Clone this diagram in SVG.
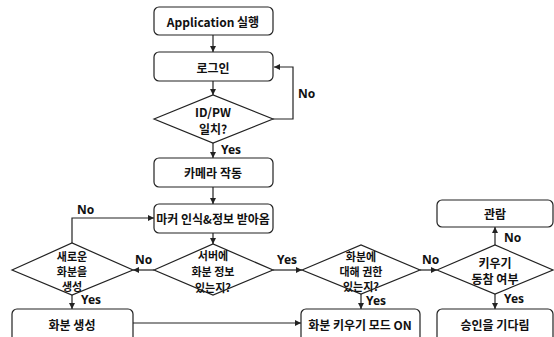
<svg xmlns="http://www.w3.org/2000/svg" width="554" height="337" viewBox="0 0 554 337">
<style>
.n{fill:#fff;stroke:#222;stroke-width:1.2}
.t{font-family:"Noto Sans CJK KR","Noto Sans",sans-serif;font-size:12px;font-weight:bold;fill:#111;text-anchor:middle;dominant-baseline:central}
.d{font-size:11px}
.l{font-family:"Noto Sans","Liberation Sans",sans-serif;font-size:12px;font-weight:bold;fill:#111;dominant-baseline:central}
.c{fill:none;stroke:#222;stroke-width:1.2;marker-end:url(#a)}
</style>
<defs>
<marker id="a" viewBox="0 0 8 8" refX="8" refY="4" markerWidth="6" markerHeight="6" markerUnits="userSpaceOnUse" orient="auto">
<path d="M0,0L8,4L0,8z" fill="#222"/>
</marker>
</defs>
<rect width="554" height="337" fill="#fff"/>
<g id="connectors">
<path class="c" d="M213,35V52"/>
<path class="c" d="M213,81V95"/>
<path class="c" d="M273,119H293V67H274"/>
<path class="c" d="M213,143V158"/>
<path class="c" d="M213,187V204"/>
<path class="c" d="M213,233V244"/>
<path class="c" d="M154,270H133"/>
<path class="c" d="M72,243V218H154"/>
<path class="c" d="M72,295V309"/>
<path class="c" d="M133,323H301"/>
<path class="c" d="M273,270H302"/>
<path class="c" d="M361,294V309"/>
<path class="c" d="M420,270H437"/>
<path class="c" d="M495,245V227"/>
<path class="c" d="M495,294V309"/>
<text class="l" x="298" y="93">No</text>
<text class="l" x="221" y="149">Yes</text>
<text class="l" x="135" y="259">No</text>
<text class="l" x="77" y="209">No</text>
<text class="l" x="81" y="299">Yes</text>
<text class="l" x="277" y="259">Yes</text>
<text class="l" x="366" y="300">Yes</text>
<text class="l" x="422" y="259">No</text>
<text class="l" x="504" y="237">No</text>
<text class="l" x="504" y="298">Yes</text>
</g>
<g id="start">
<rect class="n" x="154" y="7" width="119" height="28" rx="5"/>
<text class="t" x="213" y="21">Application 실행</text>
</g>
<g id="login">
<rect class="n" x="154" y="52" width="119" height="29" rx="5"/>
<text class="t" x="213" y="67">로그인</text>
</g>
<g id="idpw">
<polygon class="n" points="154,119 213,95 273,119 213,143"/>
<text class="t" x="213" y="111">ID/PW</text>
<text class="t" x="213" y="128">일치?</text>
</g>
<g id="camera">
<rect class="n" x="154" y="158" width="119" height="29" rx="5"/>
<text class="t" x="213" y="172">카메라 작동</text>
</g>
<g id="marker">
<rect class="n" x="154" y="204" width="119" height="29" rx="5"/>
<text class="t" x="213" y="218">마커 인식&amp;정보 받아옴</text>
</g>
<g id="server">
<polygon class="n" points="154,270 213,244 273,270 213,295"/>
<text class="t d" x="213" y="255">서버에</text>
<text class="t d" x="213" y="271">화분 정보</text>
<text class="t d" x="213" y="287">있는지?</text>
</g>
<g id="newpot">
<polygon class="n" points="12,270 72,243 133,270 72,295"/>
<text class="t d" x="72" y="256">새로운</text>
<text class="t d" x="72" y="271">화분을</text>
<text class="t d" x="72" y="286">생성</text>
</g>
<g id="create">
<rect class="n" x="12" y="309" width="121" height="34" rx="5"/>
<text class="t" x="72" y="324">화분 생성</text>
</g>
<g id="auth">
<polygon class="n" points="302,270 361,245 420,270 361,294"/>
<text class="t d" x="361" y="256">화분에</text>
<text class="t d" x="361" y="271">대해 권한</text>
<text class="t d" x="361" y="286">있는지?</text>
</g>
<g id="grow">
<rect class="n" x="301" y="309" width="119" height="34" rx="5"/>
<text class="t" x="360" y="324">화분 키우기 모드 ON</text>
</g>
<g id="join">
<polygon class="n" points="437,270 495,245 553,270 495,294"/>
<text class="t" x="495" y="262">키우기</text>
<text class="t" x="495" y="278">동참 여부</text>
</g>
<g id="watch">
<rect class="n" x="437" y="200" width="116" height="27" rx="5"/>
<text class="t" x="495" y="213">관람</text>
</g>
<g id="wait">
<rect class="n" x="437" y="309" width="116" height="34" rx="5"/>
<text class="t" x="495" y="324">승인을 기다림</text>
</g>
</svg>
